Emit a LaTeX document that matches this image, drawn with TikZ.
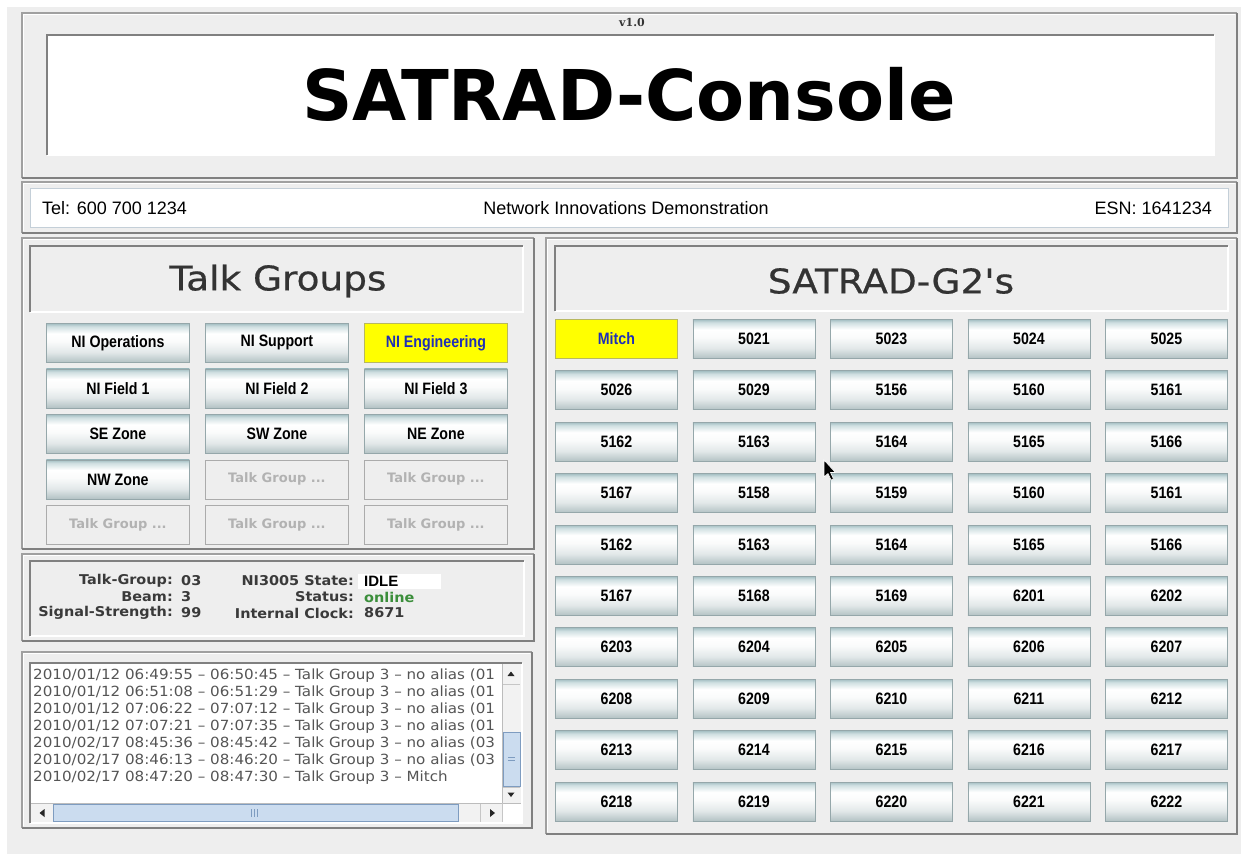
\documentclass[tikz,border=0pt]{standalone}
\usepackage{fontspec}
\setmainfont{DejaVu Sans}
\newfontfamily\arialf{Liberation Sans}
\newfontfamily\btnf[FakeStretch=0.86]{Liberation Sans}
\newfontfamily\logf[FakeStretch=1.08]{DejaVu Sans}
\newfontfamily\statf[FakeStretch=1.07]{DejaVu Sans}
\newfontfamily\headf[FakeStretch=1.1,FakeBold=0.6]{DejaVu Sans}
\newfontfamily\verf{DejaVu Serif}
\newcommand{\setfs}[1]{\fontsize{#1}{#1}\selectfont}
\definecolor{bg}{HTML}{EEEEEE}
\definecolor{edge}{HTML}{A0A0A0}
\definecolor{edgedark}{HTML}{808080}
\definecolor{stripedge}{HTML}{C4CFD8}
\definecolor{btntop}{HTML}{A3BEC2}
\definecolor{btnhi}{HTML}{CFDFE1}
\definecolor{btnmid}{HTML}{FAFBFB}
\definecolor{btnlow}{HTML}{E2E8E9}
\definecolor{btnbot}{HTML}{B3C2C4}
\definecolor{btnedge}{HTML}{95A7AA}
\definecolor{selyellow}{HTML}{FFFF00}
\definecolor{selblue}{HTML}{1F2FB8}
\definecolor{seledge}{HTML}{B8B860}
\definecolor{txtdark}{HTML}{333333}
\definecolor{stattxt}{HTML}{3A3A3A}
\definecolor{loggray}{HTML}{555555}
\definecolor{onlinegreen}{HTML}{3B8E3B}
\definecolor{dimtext}{HTML}{B2B2B2}
\definecolor{dimedge}{HTML}{ABABAB}
\definecolor{sbblue}{HTML}{CBDCEF}
\definecolor{sbedge}{HTML}{7E9CC0}
\definecolor{sbtrack}{HTML}{F2F2F2}
\pgfdeclareverticalshading{btnshade}{100bp}{color(0bp)=(btnbot); color(25bp)=(btnbot); color(38bp)=(btnlow); color(52bp)=(btnmid); color(62bp)=(white); color(71bp)=(btnhi); color(75bp)=(btntop); color(100bp)=(btntop)}
\newcommand\raisedpanel[4]{%
  \fill[bg] (#1,#2) rectangle (#3,#4);
  \draw[edge, line width=1.2] (#1,#4) -- (#1,#2) -- (#3,#2);
  \draw[white, line width=1.2] (#1+1.6,#4-1.6) -- (#1+1.6,#2+1.6) -- (#3-1.6,#2+1.6);
  \draw[edgedark, line width=1.8] (#1,#4) -- (#3,#4) -- (#3,#2);
}
\newcommand\sunkenbox[5]{%
  \fill[#5] (#1,#2) rectangle (#3,#4);
  \draw[white, line width=1.5] (#1,#4) -- (#3,#4) -- (#3,#2);
  \draw[edgedark, line width=1.5] (#1,#4) -- (#1,#2) -- (#3,#2);
}
\begin{document}
\begin{tikzpicture}[x=1pt,y=-1pt,
  btnbase/.style={line width=0.8, minimum height=39, inner sep=0, anchor=north west, font=\btnf\bfseries\setfs{16.5}},
  shbtn/.style={btnbase, draw=btnedge, shade, shading=btnshade},
  selbtn/.style={btnbase, draw=seledge, fill=selyellow, text=selblue},
  dimbtn/.style={btnbase, draw=dimedge, fill=bg, text=dimtext, font=\bfseries\setfs{13}},
  tgw/.style={minimum width=143},
  g2w/.style={minimum width=122},
  stripfont/.style={font=\arialf\setfs{18}, inner sep=0},
  statlbl/.style={font=\statf\bfseries\setfs{13.5}, text=stattxt, inner sep=0, anchor=east},
  statval/.style={font=\statf\bfseries\setfs{13.5}, text=stattxt, inner sep=0, anchor=west},
  logline/.style={font=\logf\setfs{14}, text=loggray, inner sep=0, anchor=west},
  head/.style={font=\headf\setfs{34}, text=txtdark},
  arrowtri/.style={fill=black!85}
]
\useasboundingbox (0,0) rectangle (1244,854);
\fill[white] (0,0) rectangle (1244,854);
\fill[bg] (7,7) rectangle (1241,854);

% ---------- title panel
\raisedpanel{22}{13}{1237}{178}
\node[font=\verf\bfseries\setfs{11}, text=txtdark] (ver) at (632,22) {v1.0};
\sunkenbox{47}{35}{1214}{155}{white}
\node[font=\bfseries\setfs{70}, anchor=base, inner sep=0] (title) at (629,120) {SATRAD-Console};

% ---------- info strip
\raisedpanel{22}{182}{1237}{233}
\draw[stripedge, fill=white, line width=1] (30,188) rectangle (1228,227);
\node[stripfont, anchor=west] (tel) at (42,208) {Tel: 600 700 1234};
\node[stripfont] (org) at (626,208) {Network Innovations Demonstration};
\node[stripfont, anchor=east] (esn) at (1212,208) {ESN: 1641234};

% ---------- talk groups panel
\raisedpanel{22}{238}{534}{549}
\sunkenbox{30}{246}{523}{312}{bg}
\node[head] (tghead) at (278,281) {Talk Groups};

\node[shbtn, tgw] (tg1) at (46,323) {NI Operations};
\node[shbtn, tgw] (tg2) at (205,323) {NI Support};
\node[selbtn, tgw] (tg3) at (364,323) {NI Engineering};
\node[shbtn, tgw] (tg4) at (46,368.5) {NI Field 1};
\node[shbtn, tgw] (tg5) at (205,368.5) {NI Field 2};
\node[shbtn, tgw] (tg6) at (364,368.5) {NI Field 3};
\node[shbtn, tgw] (tg7) at (46,414) {SE Zone};
\node[shbtn, tgw] (tg8) at (205,414) {SW Zone};
\node[shbtn, tgw] (tg9) at (364,414) {NE Zone};
\node[shbtn, tgw] (tg10) at (46,459.5) {NW Zone};
\node[dimbtn, tgw] (tg11) at (205,459.5) {Talk Group ...};
\node[dimbtn, tgw] (tg12) at (364,459.5) {Talk Group ...};
\node[dimbtn, tgw] (tg13) at (46,505) {Talk Group ...};
\node[dimbtn, tgw] (tg14) at (205,505) {Talk Group ...};
\node[dimbtn, tgw] (tg15) at (364,505) {Talk Group ...};

% ---------- status panel
\raisedpanel{22}{554}{534}{641}
\sunkenbox{30}{561}{524}{636}{bg}
\node[statlbl] (l1) at (173,581) {Talk-Group:};
\node[statval] (v1) at (181,581) {03};
\node[statlbl] (l2) at (173,597) {Beam:};
\node[statval] (v2) at (181,597) {3};
\node[statlbl] (l3) at (173,613) {Signal-Strength:};
\node[statval] (v3) at (181,613) {99};
\node[statlbl] (l4) at (354,581) {NI3005 State:};
\node[fill=white, anchor=north west, minimum width=83, minimum height=15, inner sep=0] (idlebox) at (358,574) {};
\node[font=\arialf\bfseries\setfs{15}, anchor=west, inner sep=0] (v4) at (364,581.5) {IDLE};
\node[statlbl] (l5) at (354,597) {Status:};
\node[statval, text=onlinegreen] (v5) at (364,597) {online};
\node[statlbl] (l6) at (354,613) {Internal Clock:};
\node[statval] (v6) at (364,613) {8671};

% ---------- log panel
\raisedpanel{22}{652}{532}{828}
\sunkenbox{30}{663}{522}{823}{white}
\begin{scope}
\clip (31,664) rectangle (502,803);
\node[logline] (log1) at (33,676) {2010/01/12 06:49:55 – 06:50:45 – Talk Group 3 – no alias (01};
\node[logline] (log2) at (33,693) {2010/01/12 06:51:08 – 06:51:29 – Talk Group 3 – no alias (01};
\node[logline] (log3) at (33,710) {2010/01/12 07:06:22 – 07:07:12 – Talk Group 3 – no alias (01};
\node[logline] (log4) at (33,727) {2010/01/12 07:07:21 – 07:07:35 – Talk Group 3 – no alias (01};
\node[logline] (log5) at (33,744) {2010/02/17 08:45:36 – 08:45:42 – Talk Group 3 – no alias (03};
\node[logline] (log6) at (33,761) {2010/02/17 08:46:13 – 08:46:20 – Talk Group 3 – no alias (03};
\node[logline] (log7) at (33,778) {2010/02/17 08:47:20 – 08:47:30 – Talk Group 3 – Mitch};
\end{scope}
% vertical scrollbar
\fill[sbtrack] (502,664) rectangle (521,803);
\draw[edge!70, line width=0.6] (502,664) -- (502,803);
\draw[edge!60, line width=0.6] (503,684) -- (520,684);
\fill[arrowtri] (507.5,676) -- (514.5,676) -- (511,671.5) -- cycle;
\draw[sbedge, fill=sbblue, line width=0.8] (503,732) rectangle (520,786);
\draw[sbedge, line width=0.8] (508,757) -- (515,757) (508,760) -- (515,760);
\draw[edge!60, line width=0.6] (503,787) -- (520,787);
\fill[arrowtri] (507.5,792.5) -- (514.5,792.5) -- (511,797) -- cycle;
% horizontal scrollbar
\fill[sbtrack] (31,803) rectangle (502,822);
\draw[edge!70, line width=0.6] (31,803) -- (521,803);
\fill[arrowtri] (44.5,809) -- (44.5,817) -- (39.5,813) -- cycle;
\draw[sbedge, fill=sbblue, line width=0.8] (53,804.5) rectangle (458,821);
\draw[sbedge, line width=0.7] (251,809) -- (251,817) (254,809) -- (254,817) (257,809) -- (257,817);
\draw[edge!60, line width=0.6] (480,804) -- (480,822);
\fill[arrowtri] (490,809) -- (490,817) -- (495,813) -- cycle;
\draw[edge!60, line width=0.6] (502,803) -- (502,822);

% ---------- SATRAD-G2 panel
\raisedpanel{546}{238}{1237}{834}
\sunkenbox{555}{246}{1228}{311}{bg}
\node[head] (g2head) at (891,281) {SATRAD-G2's};
\node[selbtn, g2w] (g0) at (555,319) {Mitch};
\foreach \lbl [count=\i from 1] in {5021,5023,5024,5025,5026,5029,5156,5160,5161,5162,5163,5164,5165,5166,5167,5158,5159,5160,5161,5162,5163,5164,5165,5166,5167,5168,5169,6201,6202,6203,6204,6205,6206,6207,6208,6209,6210,6211,6212,6213,6214,6215,6216,6217,6218,6219,6220,6221,6222}{
  \pgfmathsetmacro\xx{555+137.5*mod(\i,5)}
  \pgfmathsetmacro\yy{319+51.4*int(\i/5)}
  \node[shbtn, g2w] (g\i) at (\xx,\yy) {\lbl};
}

% mouse pointer
\filldraw[black, draw=white, line width=0.6] (824,460) -- (824,477) -- (828,473.5) -- (831,480) -- (833.5,479) -- (830.5,472.5) -- (835.5,472.5) -- cycle;
\end{tikzpicture}
\end{document}
